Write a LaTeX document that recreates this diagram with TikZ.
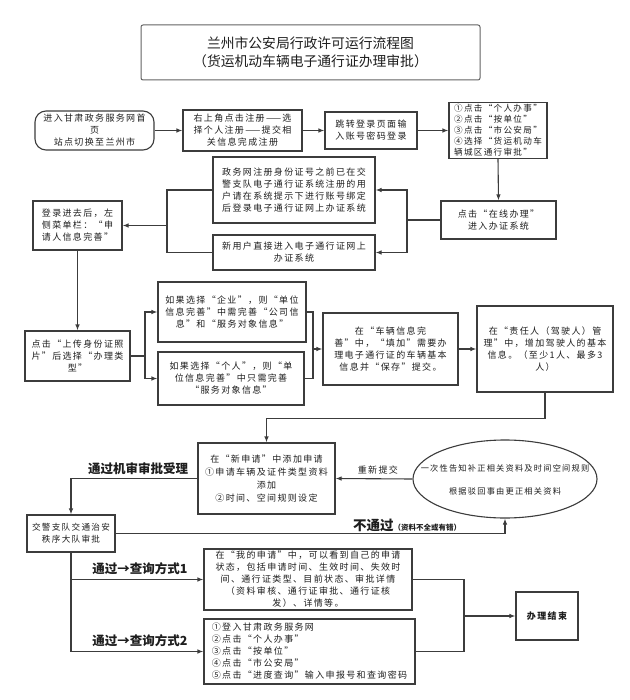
\documentclass[tikz,border=0pt]{standalone}
\usepackage{fontspec}
\setmainfont{Noto Sans CJK SC}[LetterSpace=15]
\newfontfamily\plainfont{Noto Sans CJK SC}
\usetikzlibrary{arrows.meta,shapes.geometric}
\definecolor{lncol}{HTML}{3C3C3C}
\definecolor{txcol}{HTML}{1E1E1E}
\begin{document}
\begin{tikzpicture}[x=1pt,y=-1pt,
  box/.style={draw=lncol,line width=1.1pt,text=txcol,inner sep=2pt,align=center,font=\fontsize{9}{12}\selectfont},
  wire/.style={draw=lncol,line width=1.1pt},
  arr/.style={wire,-{Latex[length=6pt,width=4.5pt]}},
  lbl/.style={text=txcol,font=\plainfont\fontsize{12.5}{14}\selectfont\bfseries},
  elltext/.style={text=txcol,inner sep=0pt,font=\fontsize{8.2}{11}\selectfont},
]
\fill[white] (0,0) rectangle (629,700);
\useasboundingbox (0,0) rectangle (629,700);

% title
\node[draw=lncol!80,line width=1pt,rounded corners=2pt,minimum width=339pt,minimum height=55pt,align=center,text=txcol,font=\plainfont\fontsize{13.8}{18}\selectfont] (title) at (310.5,52.5) {兰州市公安局行政许可运行流程图\\（货运机动车辆电子通行证办理审批）};

% row 1
\node[box,rounded corners=11pt,minimum width=119pt,minimum height=39pt] (b1) at (94.5,130.5) {进入甘肃政务服务网首\\页\\站点切换至兰州市};
\node[box,minimum width=119pt,minimum height=41pt] (b2) at (242.5,130.5) {右上角点击注册——选\\择个人注册——提交相\\关信息完成注册};
\node[box,minimum width=92pt,minimum height=37pt] (b3) at (371,130.5) {跳转登录页面输\\入账号密码登录};
\node[box,align=left,minimum width=98pt,minimum height=55pt,font=\fontsize{8.6}{11}\selectfont] (b4) at (498,130.5) {①点击“个人办事”\\②点击“按单位”\\③点击“市公安局”\\④选择“货运机动车\\辆城区通行审批”};

% row 2
\node[box,minimum width=115pt,minimum height=38pt] (b5) at (498.5,220) {点击“在线办理”\\进入办证系统};
\node[box,minimum width=162pt,minimum height=66pt] (b6) at (294,190) {政务网注册身份证号之前已在交\\警支队电子通行证系统注册的用\\户请在系统提示下进行账号绑定\\后登录电子通行证网上办证系统};
\node[box,minimum width=162pt,minimum height=35pt] (b7) at (294,252.5) {新用户直接进入电子通行证网上\\办证系统};
\node[box,align=left,minimum width=89pt,minimum height=49pt] (b8) at (77.5,225.5) {登录进去后，左\\侧菜单栏：“申\\请人信息完善”};

% row 3
\node[box,minimum width=105pt,minimum height=50pt] (b9) at (77.5,356) {点击“上传身份证照\\片”后选择“办理类\\型”};
\node[box,minimum width=148pt,minimum height=60pt] (b10) at (232,312) {如果选择“企业”，则“单位\\信息完善”中需完善“公司信\\息”和“服务对象信息”};
\node[box,minimum width=146pt,minimum height=53pt] (b11) at (231,378.5) {如果选择“个人”，则“单\\位信息完善”中只需完善\\“服务对象信息”};
\node[box,minimum width=135pt,minimum height=72pt] (b12) at (390.5,349) {在“车辆信息完\\善”中，“填加”需要办\\理电子通行证的车辆基本\\信息并“保存”提交。};
\node[box,minimum width=136pt,minimum height=86pt] (b13) at (545,349) {在“责任人（驾驶人）管\\理”中，增加驾驶人的基本\\信息。（至少1人、最多3\\人）};

% row 4
\node[box,minimum width=137pt,minimum height=71pt,font=\fontsize{9}{13}\selectfont] (b14) at (266.5,478.5) {在“新申请”中添加申请\\①申请车辆及证件类型资料\\添加\\②时间、空间规则设定};
\node[draw=lncol,line width=1.1pt,ellipse,minimum width=184pt,minimum height=78pt,inner sep=0pt] (ell) at (505,479) {};
\node[elltext] (ellt1) at (505,468) {一次性告知补正相关资料及时间空间规则};
\node[elltext] (ellt2) at (505,491) {根据驳回事由更正相关资料};
\node[box,minimum width=88pt,minimum height=37pt,font=\fontsize{8.6}{12}\selectfont] (b15) at (71,533.5) {交警支队交通治安\\秩序大队审批};

% row 5
\node[box,minimum width=208pt,minimum height=61pt] (b16) at (308,579.5) {在“我的申请”中，可以看到自己的申请\\状态，包括申请时间、生效时间、失效时\\间、通行证类型、目前状态、审批详情\\（资料审核、通行证审批、通行证核\\发）、详情等。};
\node[box,align=left,minimum width=211pt,minimum height=65pt] (b17) at (309.5,651.5) {①登入甘肃政务服务网\\②点击“个人办事”\\③点击“按单位”\\④点击“市公安局”\\⑤点击“进度查询”输入申报号和查询密码};
\node[box,minimum width=62pt,minimum height=48pt,font=\fontsize{9}{12}\selectfont\bfseries] (b18) at (547,616) {办理结束};

% junction points
\coordinate (j1) at (407,220);
\coordinate (j2) at (167,225.5);
\coordinate (j3) at (145,356);
\coordinate (j4) at (313,349);
\coordinate (j6) at (464,616);

% connectors
\draw[arr] (b1.east) -- (b1.east -| b2.west);
\draw[arr] (b2.east) -- (b2.east -| b3.west);
\draw[arr] (b3.east) -- (b3.east -| b4.west);
\draw[arr] (b4.south) -- (b5.north);
\draw[wire] (b5.west) -- (j1);
\draw[arr] (j1) |- (b6.east);
\draw[arr] (j1) |- (b7.east);
\draw[wire] (b6.west) -| (j2);
\draw[wire] (b7.west) -| (j2);
\draw[arr] (j2) -- (b8.east);
\draw[arr] (b8.south) -- (b9.north);
\draw[wire] (b9.east) -- (j3);
\draw[arr] (j3) |- (b10.west);
\draw[arr] (j3) |- (b11.west);
\draw[wire] (b10.east) -| (j4);
\draw[wire] (b11.east) -| (j4);
\draw[arr] (j4) -- (b12.west);
\draw[arr] (b12.east) -- (b13.west);
\draw[arr] (b13.south) -- ++(0,26) -| (b14.north);
\draw[arr] (ell.west) -- node[pos=0.45,above=1pt,text=txcol,font=\fontsize{9}{10}\selectfont] {重新提交} (b14.east);
\draw[arr] (b14.west) -| (b15.north);
\node[lbl,anchor=south] (lab1) at (138,478) {通过机审审批受理};
\draw[arr] (b15.east) -| (ell.south);
\node[anchor=south west,text=txcol,inner sep=1pt,font=\plainfont] (lab2) at (352,533) {{\fontsize{13.5}{15}\selectfont\bfseries 不通过}{\fontsize{7.5}{8}\selectfont\bfseries （资料不全或有错）}};
\draw[arr] (b15.south) |- (b16.west);
\draw[arr] (b15.south) |- (b17.west);
\node[lbl,anchor=south] (lab3) at (140,578) {通过→查询方式1};
\node[lbl,anchor=south] (lab4) at (140,650) {通过→查询方式2};
\draw[wire] (b16.east) -| (j6);
\draw[wire] (b17.east) -| (j6);
\draw[arr] (j6) -- (b18.west);
\end{tikzpicture}
\end{document}
